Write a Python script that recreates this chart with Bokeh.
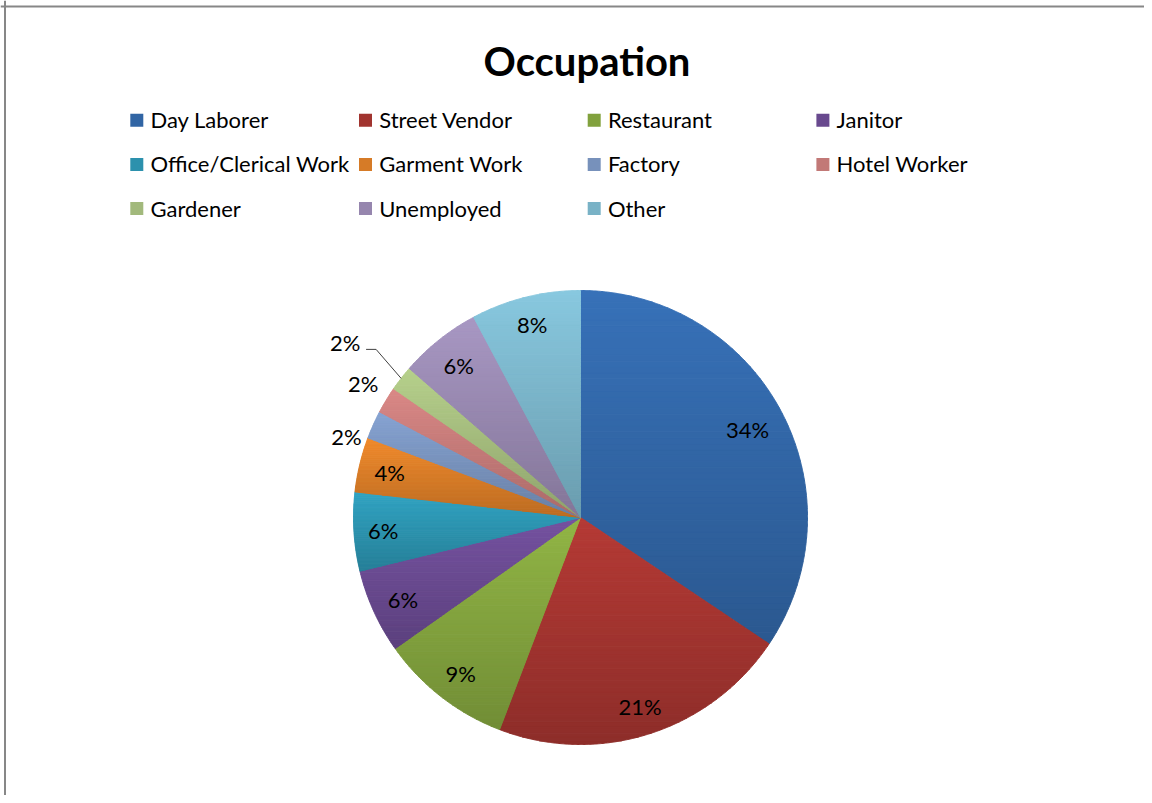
import numpy as np
from bokeh.plotting import figure
from bokeh.models import Range1d, ColumnDataSource, Span
from bokeh.core.properties import value
from bokeh.embed import file_html
from bokeh.resources import INLINE

# ---- data ----
title = "Occupation"
categories = ["Day Laborer", "Street Vendor", "Restaurant", "Janitor",
              "Office/Clerical Work", "Garment Work", "Factory", "Hotel Worker",
              "Gardener", "Unemployed", "Other"]
shares = [34.4, 21.4, 9.4, 6.0, 5.6, 3.9, 2.0, 1.9, 1.8, 5.8, 7.8]
top_colors = ["#3771B8", "#B53A35", "#91B545", "#7552A0", "#31A3C2", "#F08A2C",
              "#86A3D2", "#DA8886", "#B6D08B", "#A897C3", "#88C8DF"]

# ---- layout ----
W, H = 1144, 795
FONT = "Lato"
cx, cy, R = 580.0, H - 517.0, 227.0
DARK = 0.78
outside_place = {"Factory": (-4.8, 248.0), "Hotel Worker": (0.8, 256.0), "Gardener": (-1.0, 294.0)}


def hex2rgb(h):
    h = h.lstrip("#")
    return np.array([int(h[i:i + 2], 16) for i in (0, 2, 4)], dtype=float)


def rgb2hex(c):
    c = np.clip(np.round(c), 0, 255).astype(int)
    return "#%02x%02x%02x" % tuple(c)


def clip_y(poly, y0, keep_above):
    out = []
    n = len(poly)
    for j in range(n):
        P = poly[j]
        Q = poly[(j + 1) % n]
        inP = P[1] >= y0 if keep_above else P[1] <= y0
        inQ = Q[1] >= y0 if keep_above else Q[1] <= y0
        if inP:
            out.append(P)
        if inP != inQ:
            t = (y0 - P[1]) / (Q[1] - P[1])
            out.append((P[0] + t * (Q[0] - P[0]), y0))
    return out


p = figure(width=W, height=H, x_range=Range1d(0, W), y_range=Range1d(0, H),
           output_backend="svg", toolbar_location=None, min_border=0,
           x_axis_location=None, y_axis_location=None, title=None)
p.grid.visible = False
p.outline_line_color = None
p.background_fill_color = "white"
p.border_fill_color = "white"

# chart border (top and left visible in reference)
p.add_layout(Span(location=4.5, dimension="height", line_color="#878787", line_width=2))
p.add_layout(Span(location=H - 6, dimension="width", line_color="#878787", line_width=2))

# ---- pie with per-slice vertical gradient ----
fr = np.array(shares) / sum(shares)
cum = np.concatenate([[0.0], np.cumsum(fr)])
xs_all, ys_all, col_all = [], [], []
NB = 60
for i in range(len(categories)):
    t0, t1 = cum[i], cum[i + 1]
    th = np.linspace(t0, t1, max(4, int(1200 * (t1 - t0)))) * 2 * np.pi
    ax = cx + R * np.sin(th)
    ay = cy + R * np.cos(th)
    poly = [(cx, cy)] + list(zip(ax, ay))
    ymin = min(ay.min(), cy)
    ymax = max(ay.max(), cy)
    top = hex2rgb(top_colors[i])
    bot = top * DARK
    edges = np.linspace(ymin, ymax, NB + 1)
    for k in range(NB):
        seg = clip_y(poly, edges[k], True)
        seg = clip_y(seg, edges[k + 1], False)
        if len(seg) < 3:
            continue
        t = (k + 0.5) / NB
        c = rgb2hex(bot + (top - bot) * t)
        xs_all.append([q[0] for q in seg])
        ys_all.append([q[1] for q in seg])
        col_all.append(c)

p.patches("xs", "ys", source=ColumnDataSource(dict(xs=xs_all, ys=ys_all, c=col_all)),
          fill_color="c", line_color="c", line_width=1)

# ---- data labels ----
lx, ly, lt = [], [], []
lead_x, lead_y = [], []
for i, cat in enumerate(categories):
    txt = "%d%%" % round(shares[i])
    mid = (cum[i] + cum[i + 1]) / 2 * 2 * np.pi
    if cat in outside_place:
        dang, dist = outside_place[cat]
        a = mid + np.deg2rad(dang)
        x = cx + dist * np.sin(a)
        y = cy + dist * np.cos(a)
        if dist > R + 40:
            rx = cx + R * np.sin(mid)
            ry = cy + R * np.cos(mid)
            lead_x.append([x + 21, x + 31, rx])
            lead_y.append([y - 8, y - 8, ry])
    else:
        hw = (12.8 * (len(txt) - 1) + 18.7) / 2
        hh = 11
        d = 214 - (hw * abs(np.sin(mid)) + hh * abs(np.cos(mid)))
        x = cx + d * np.sin(mid)
        y = cy + d * np.cos(mid)
    lx.append(x)
    ly.append(y - 1)
    lt.append(txt)

if lead_x:
    p.multi_line(lead_x, lead_y, line_color="#404040", line_width=1)
p.text(lx, ly, text=lt, text_font=value(FONT), text_font_size="22px",
       text_color="#000000", text_align="center", text_baseline="middle")

# ---- title ----
p.text([586.5], [H - 60], text=[title], text_font=value(FONT), text_font_size="40px",
       text_font_style="bold", text_color="#000000", text_align="center",
       text_baseline="middle")

# ---- legend ----
NCOL = 4
gx, gy, gt, gc = [], [], [], []
for i, cat in enumerate(categories):
    r, c = divmod(i, NCOL)
    gx.append(136.3 + 228.7 * c)
    gy.append(H - (119.7 + 44.2 * r))
    gt.append(cat)
    gc.append(rgb2hex(hex2rgb(top_colors[i]) * 0.89))
p.rect(gx, gy, width=13, height=13, width_units="screen", height_units="screen",
       fill_color=gc, line_color=None)
p.text([x + 13.7 for x in gx], [y + 0.5 for y in gy], text=gt, text_font=value(FONT),
       text_font_size="22px", text_color="#000000", text_align="left",
       text_baseline="middle")

open("out.html", "w").write(file_html(p, INLINE))
